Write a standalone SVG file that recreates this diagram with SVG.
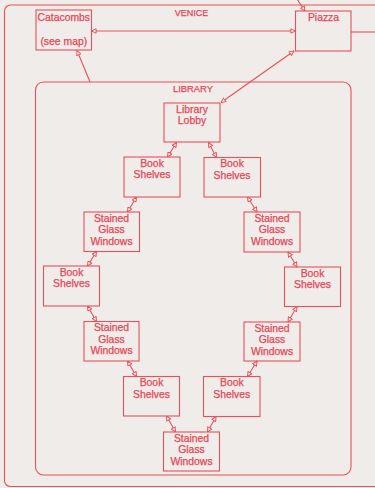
<svg xmlns="http://www.w3.org/2000/svg" width="375" height="488" viewBox="0 0 375 488">
<style>
.b{fill:none;stroke:#e8505b;stroke-width:1.1}
.t{font-family:"Liberation Sans",Arial,sans-serif;font-size:10.4px;fill:#e44757;stroke:#e44757;stroke-width:0.25;text-anchor:middle}
.c{stroke:#e8505b;stroke-width:1.1;fill:none}
.d{marker-start:url(#a);marker-end:url(#a)}
.e{marker-end:url(#a)}
</style>
<defs>
<marker id="a" viewBox="0 0 8 8" refX="7.5" refY="4" markerWidth="5.5" markerHeight="5.5" markerUnits="userSpaceOnUse" orient="auto-start-reverse">
<path d="M0.8,0.8 L7.5,4 L0.8,7.2 Z" fill="#f0ece9" stroke="#e8505b" stroke-width="1.4"/>
</marker>
</defs>
<rect width="375" height="488" fill="#f0ece9"/>
<g id="venice">
<rect class="b" x="4.5" y="5" width="420" height="481.5" rx="6"/>
<text class="t" x="191.5" y="15.5" style="font-size:9px">VENICE</text>
</g>
<g id="library">
<rect class="b" x="35.5" y="82" width="315.5" height="393" rx="8"/>
<text class="t" x="193" y="91.7" style="font-size:9.4px">LIBRARY</text>
</g>
<g id="catacombs">
<rect class="b" x="36" y="10" width="55.5" height="40"/>
<text class="t" x="63.8" y="20.5">Catacombs</text>
<text class="t" x="63.8" y="44.5">(see map)</text>
</g>
<g id="piazza">
<rect class="b" x="295.5" y="11" width="55.5" height="40"/>
<text class="t" x="323.5" y="21.2">Piazza</text>
</g>
<g id="lobby">
<rect class="b" x="164" y="103" width="56" height="39"/>
<text class="t" x="192" y="112.5">Library</text>
<text class="t" x="192" y="124">Lobby</text>
</g>
<g id="books-l1">
<rect class="b" x="124" y="157" width="56" height="40"/>
<text class="t" x="152" y="166.5">Book</text>
<text class="t" x="152" y="178">Shelves</text>
</g>
<g id="books-r1">
<rect class="b" x="204" y="157.5" width="56.5" height="39.5"/>
<text class="t" x="232" y="167">Book</text>
<text class="t" x="232" y="178.5">Shelves</text>
</g>
<g id="glass-l2">
<rect class="b" x="84" y="212" width="55.5" height="39.5"/>
<text class="t" x="111.5" y="221.5">Stained</text>
<text class="t" x="111.5" y="233">Glass</text>
<text class="t" x="111.5" y="244.6">Windows</text>
</g>
<g id="glass-r2">
<rect class="b" x="244" y="212" width="56" height="40"/>
<text class="t" x="272" y="221.8">Stained</text>
<text class="t" x="272" y="233.4">Glass</text>
<text class="t" x="272" y="245">Windows</text>
</g>
<g id="books-l3">
<rect class="b" x="43.5" y="266" width="56" height="40"/>
<text class="t" x="71.5" y="275.5">Book</text>
<text class="t" x="71.5" y="287">Shelves</text>
</g>
<g id="books-r3">
<rect class="b" x="284.5" y="267" width="56" height="39.5"/>
<text class="t" x="312.5" y="276.5">Book</text>
<text class="t" x="312.5" y="288">Shelves</text>
</g>
<g id="glass-l4">
<rect class="b" x="84" y="321.5" width="55" height="39.5"/>
<text class="t" x="111.5" y="331">Stained</text>
<text class="t" x="111.5" y="342.5">Glass</text>
<text class="t" x="111.5" y="354">Windows</text>
</g>
<g id="glass-r4">
<rect class="b" x="244" y="322" width="56" height="39"/>
<text class="t" x="272" y="331.5">Stained</text>
<text class="t" x="272" y="343">Glass</text>
<text class="t" x="272" y="354.5">Windows</text>
</g>
<g id="books-l5">
<rect class="b" x="123.5" y="376.5" width="56" height="39.5"/>
<text class="t" x="151.5" y="386">Book</text>
<text class="t" x="151.5" y="397.5">Shelves</text>
</g>
<g id="books-r5">
<rect class="b" x="203.5" y="376.5" width="56.5" height="40"/>
<text class="t" x="231.8" y="386">Book</text>
<text class="t" x="231.8" y="397.5">Shelves</text>
</g>
<g id="glass-b6">
<rect class="b" x="163.5" y="432" width="56" height="39"/>
<text class="t" x="191.5" y="441.5">Stained</text>
<text class="t" x="191.5" y="453">Glass</text>
<text class="t" x="191.5" y="464.5">Windows</text>
</g>
<g id="connectors">
<line class="c d" x1="91.5" y1="31" x2="295.5" y2="31"/>
<line class="c" x1="351" y1="32" x2="375" y2="32"/>
<line class="c e" x1="297" y1="-1" x2="305" y2="11"/>
<line class="c e" x1="90" y1="82" x2="77" y2="50.5"/>
<line class="c d" x1="294" y1="51" x2="221" y2="102.5"/>
<line class="c d" x1="176.5" y1="142.5" x2="167.5" y2="157"/>
<line class="c d" x1="208.5" y1="142.5" x2="216.5" y2="157.5"/>
<line class="c d" x1="136.5" y1="197" x2="127.5" y2="212"/>
<line class="c d" x1="247.5" y1="197" x2="257" y2="212"/>
<line class="c d" x1="96.5" y1="251.5" x2="87.5" y2="266"/>
<line class="c d" x1="288" y1="252" x2="297" y2="267"/>
<line class="c d" x1="87.5" y1="306" x2="96.5" y2="321.5"/>
<line class="c d" x1="297" y1="306.5" x2="288" y2="322"/>
<line class="c d" x1="127.5" y1="361" x2="136.5" y2="376.5"/>
<line class="c d" x1="257" y1="361" x2="247.5" y2="376.5"/>
<line class="c d" x1="166.5" y1="416" x2="175.5" y2="432"/>
<line class="c d" x1="216" y1="416.5" x2="207.5" y2="432"/>
</g>
</svg>
